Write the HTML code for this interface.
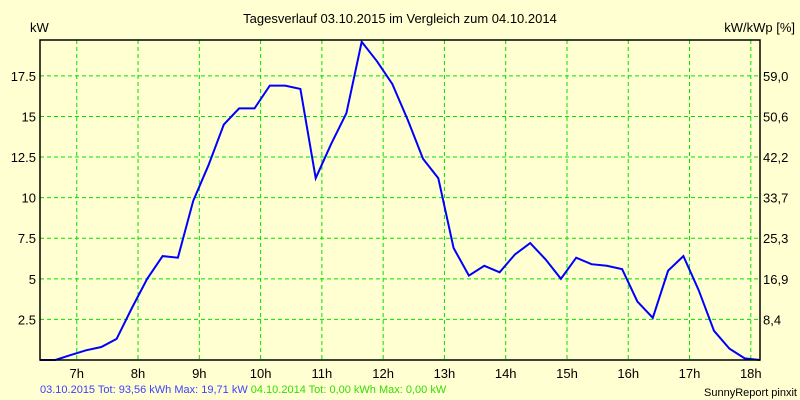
<!DOCTYPE html>
<html><head><meta charset="utf-8"><style>
body{margin:0;background:#FFFFD2;}
svg{display:block;font-family:"Liberation Sans",sans-serif;font-size:13px;}
</style></head><body>
<svg id="c" width="800" height="400">
<rect x="0" y="0" width="800" height="400" fill="#FFFFD2"/>
<text x="400" y="23" text-anchor="middle" fill="#000">Tagesverlauf 03.10.2015 im Vergleich zum 04.10.2014</text>
<text x="30" y="32" fill="#000">kW</text>
<text x="795" y="32" text-anchor="end" fill="#000">kW/kWp [%]</text>
<g id="grid"></g>
<g id="ticks"></g>
<polyline id="line" fill="none" stroke="#0000FF" stroke-width="2"/>
<rect x="40" y="40" width="720" height="320" fill="none" stroke="#000" stroke-width="1.5"/>
<text x="40" y="393" font-size="11"><tspan fill="#4040FF">03.10.2015 Tot: 93,56 kWh Max: 19,71 kW </tspan><tspan fill="#33DD00">04.10.2014 Tot: 0,00 kWh Max: 0,00 kW</tspan></text>
<text x="797" y="396" font-size="11" text-anchor="end" fill="#000">SunnyReport pinxit</text>
</svg>
<script>
const hourTicks=[7,8,9,10,11,12,13,14,15,16,17,18];
const kwTicks=[2.5,5,7.5,10,12.5,15,17.5];
const kwTickLabels=["2.5","5","7.5","10","12.5","15","17.5"];
const pctTickLabels=["8,4","16,9","25,3","33,7","42,2","50,6","59,0"];
const startHour=6.4;
const stepHours=0.25;
const power=[0,0,0.3,0.6,0.8,1.3,3.2,5.0,6.4,6.3,9.8,12.0,14.5,15.5,15.5,16.9,16.9,16.7,11.2,13.3,15.2,19.6,18.4,17.0,14.8,12.4,11.2,6.9,5.2,5.8,5.4,6.5,7.2,6.2,5.0,6.3,5.9,5.8,5.6,3.6,2.6,5.5,6.4,4.3,1.8,0.7,0.1,0];
const X0=40,X1=760,Y0=360,Y1=40,HMIN=6.4,HMAX=18.15,VMAX=19.71;
const xs=h=>X0+(h-HMIN)/(HMAX-HMIN)*(X1-X0);
const ys=v=>Y0-v/VMAX*(Y0-Y1);
const NS="http://www.w3.org/2000/svg";
const grid=document.getElementById('grid'),ticks=document.getElementById('ticks');
function mk(tag,attrs,parent){const e=document.createElementNS(NS,tag);for(const k in attrs)e.setAttribute(k,attrs[k]);parent.appendChild(e);return e;}
hourTicks.forEach(h=>{
  const x=xs(h);
  const l=mk('line',{x1:x,x2:x,y1:Y1,y2:Y0,stroke:'#00E000','stroke-dasharray':'4,3'},grid);
  
  
  const t=mk('text',{x:x,y:378,'text-anchor':'middle',fill:'#000'},ticks);
  t.textContent=h+'h';
  
  
});
kwTicks.forEach((v,i)=>{
  const y=ys(v);
  const l=mk('line',{x1:X0,x2:X1,y1:y,y2:y,stroke:'#00E000','stroke-dasharray':'4,3'},grid);
  
  
  const t=mk('text',{x:36,y:y+5,'text-anchor':'end',fill:'#000'},ticks);
  t.textContent=kwTickLabels[i];
  
  
  const r=mk('text',{x:763,y:y+5,fill:'#000'},ticks);
  r.textContent=pctTickLabels[i];
  
  
});
document.getElementById('line').setAttribute('points',power.map((v,i)=>xs(startHour+i*stepHours).toFixed(1)+','+ys(v).toFixed(1)).join(' '));
</script>
</body></html>
